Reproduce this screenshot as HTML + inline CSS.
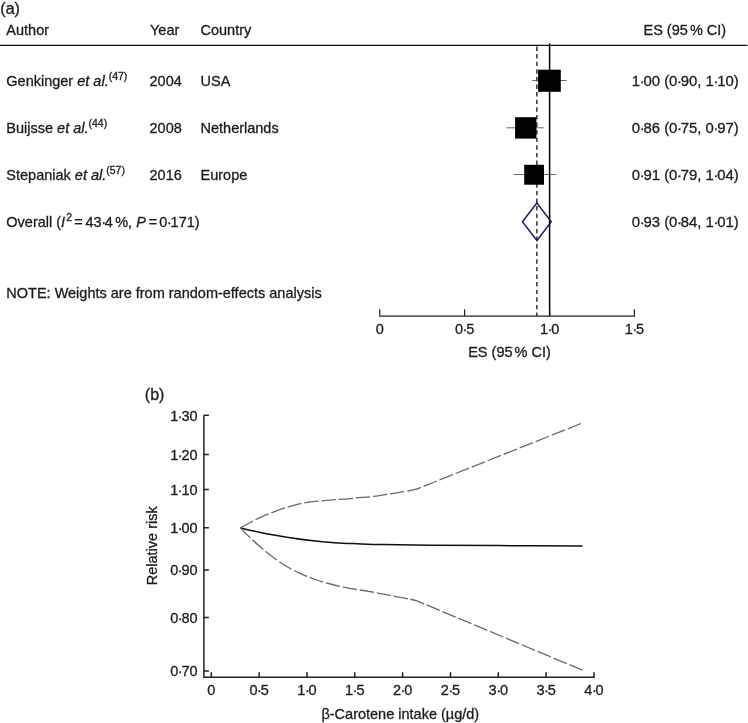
<!DOCTYPE html>
<html><head><meta charset="utf-8"><title>Figure</title>
<style>
html,body{margin:0;padding:0;background:#fff;}
svg{display:block}
text{font-family:"Liberation Sans",sans-serif;fill:#1c1c1c;font-size:14.5px;stroke:#1c1c1c;stroke-width:0.3px}
.i{font-style:italic}
.s{font-size:10.5px}
.d{letter-spacing:-1.2px}
.p{font-size:16px}
.v{font-size:14.9px}
</style></head><body>
<svg width="748" height="723" viewBox="0 0 748 723">
<rect width="748" height="723" fill="#fff"/>

<text class="p" x="0.3" y="14.4">(a)</text>
<text x="6.3" y="35.4">Author</text>
<text x="150" y="35.4">Year</text>
<text x="200.5" y="35.4">Country</text>
<text x="643.5" y="35.4">ES (95<tspan dx="-2"> </tspan>% CI)</text>
<line x1="0" y1="45.4" x2="747.5" y2="45.4" stroke="#111" stroke-width="1.3"/>
<text x="6.3" y="86">Genkinger <tspan class="i">et al.</tspan><tspan class="s" dy="-6">(47)</tspan></text>
<text x="149.5" y="86">2004</text>
<text x="200.5" y="86">USA</text>
<text class="v" x="631.8" y="85.8">1<tspan class="d" dx="-0.4">·</tspan>00 (0<tspan class="d" dx="-0.4">·</tspan>90, 1<tspan class="d" dx="-0.4">·</tspan>10)</text>
<text x="6.3" y="133">Buijsse <tspan class="i">et al.</tspan><tspan class="s" dy="-6">(44)</tspan></text>
<text x="149.5" y="133">2008</text>
<text x="200.5" y="133">Netherlands</text>
<text class="v" x="631.8" y="132.8">0<tspan class="d" dx="-0.4">·</tspan>86 (0<tspan class="d" dx="-0.4">·</tspan>75, 0<tspan class="d" dx="-0.4">·</tspan>97)</text>
<text x="6.3" y="180">Stepaniak <tspan class="i">et al.</tspan><tspan class="s" dy="-6">(57)</tspan></text>
<text x="149.5" y="180">2016</text>
<text x="200.5" y="180">Europe</text>
<text class="v" x="631.8" y="179.8">0<tspan class="d" dx="-0.4">·</tspan>91 (0<tspan class="d" dx="-0.4">·</tspan>79, 1<tspan class="d" dx="-0.4">·</tspan>04)</text>
<text x="6.3" y="226.7">Overall (<tspan class="i">I</tspan><tspan class="s" dy="-6" dx="1.2">2</tspan><tspan dy="6" dx="2.2">=</tspan><tspan dx="2.6">43<tspan class="d" dx="-0.4">·</tspan>4</tspan><tspan dx="2.3">%, </tspan><tspan class="i" dx="0.2">P</tspan><tspan dx="2.6">=</tspan><tspan dx="2.2">0<tspan class="d" dx="-0.4">·</tspan>171)</tspan></text>
<text class="v" x="631.8" y="226.5">0<tspan class="d" dx="-0.4">·</tspan>93 (0<tspan class="d" dx="-0.4">·</tspan>84, 1<tspan class="d" dx="-0.4">·</tspan>01)</text>
<text x="6.3" y="297.5">NOTE: Weights are from random-effects analysis</text>
<line x1="549.6" y1="43.5" x2="549.6" y2="316" stroke="#000" stroke-width="1.5"/>
<line x1="536.9" y1="46.5" x2="536.9" y2="316" stroke="#000" stroke-width="1.2" stroke-dasharray="4.4 3.2"/>
<g stroke="#444" stroke-width="0.8">
<line x1="532.3" y1="80.5" x2="566.6" y2="80.5"/>
<line x1="506.4" y1="127.8" x2="543.8" y2="127.8"/>
<line x1="513.6" y1="174.5" x2="556.3" y2="174.5"/>
</g>
<rect x="538.1" y="69.7" width="22.7" height="22.1" fill="#000"/>
<rect x="515.1" y="117.2" width="21.3" height="21.4" fill="#000"/>
<rect x="524.2" y="164.8" width="19.8" height="19.9" fill="#000"/>
<polygon points="522.4,221.7 536.9,203 551.3,221.7 536.9,240.5" fill="none" stroke="#1a1a66" stroke-width="1.4"/>
<g stroke="#222" stroke-width="1.2" fill="none">
<path d="M379.2 316.1H635"/>
<path d="M379.8 309.2V316.1M464.6 309.2V316.1M549.7 309.2V316.1M634.4 309.2V316.1"/>
</g>
<g text-anchor="middle">
<text x="379.9" y="333.6">0</text>
<text x="464.6" y="333.6">0<tspan class="d" dx="-0.4">·</tspan>5</text>
<text x="549.7" y="333.6">1<tspan class="d" dx="-0.4">·</tspan>0</text>
<text x="634.4" y="333.6">1<tspan class="d" dx="-0.4">·</tspan>5</text>
<text x="509.5" y="357">ES (95<tspan dx="-2"> </tspan>% CI)</text>
</g>
<text class="p" x="144.8" y="399.8">(b)</text>
<g stroke="#222" stroke-width="1.5" fill="none">
<path d="M203.9 415.2V677.2H594.6"/>
<path d="M203.9 415.2h5M203.9 454.4h5M203.9 489.4h5M203.9 527.7h5M203.9 570.0h5M203.9 617.4h5M203.9 671.0h5"/>
<path d="M211.3 677.2v-5M259.1 677.2v-5M307.0 677.2v-5M354.8 677.2v-5M402.6 677.2v-5M450.5 677.2v-5M498.3 677.2v-5M546.1 677.2v-5M594.0 677.2v-5"/>
</g>
<g text-anchor="end">
<text x="197.6" y="420.5">1<tspan class="d" dx="-0.4">·</tspan>30</text>
<text x="197.6" y="459.7">1<tspan class="d" dx="-0.4">·</tspan>20</text>
<text x="197.6" y="494.7">1<tspan class="d" dx="-0.4">·</tspan>10</text>
<text x="197.6" y="533.0">1<tspan class="d" dx="-0.4">·</tspan>00</text>
<text x="197.6" y="575.3">0<tspan class="d" dx="-0.4">·</tspan>90</text>
<text x="197.6" y="622.7">0<tspan class="d" dx="-0.4">·</tspan>80</text>
<text x="197.6" y="676.3">0<tspan class="d" dx="-0.4">·</tspan>70</text>
</g>
<g text-anchor="middle">
<text x="211.3" y="695">0</text>
<text x="259.1" y="695">0<tspan class="d" dx="-0.4">·</tspan>5</text>
<text x="307.0" y="695">1<tspan class="d" dx="-0.4">·</tspan>0</text>
<text x="354.8" y="695">1<tspan class="d" dx="-0.4">·</tspan>5</text>
<text x="402.6" y="695">2<tspan class="d" dx="-0.4">·</tspan>0</text>
<text x="450.5" y="695">2<tspan class="d" dx="-0.4">·</tspan>5</text>
<text x="498.3" y="695">3<tspan class="d" dx="-0.4">·</tspan>0</text>
<text x="546.1" y="695">3<tspan class="d" dx="-0.4">·</tspan>5</text>
<text x="594.0" y="695">4<tspan class="d" dx="-0.4">·</tspan>0</text>
<text x="400.3" y="718.5">β-Carotene intake (µg/d)</text>
</g>
<text transform="translate(157.2,545.8) rotate(-90)" text-anchor="middle">Relative risk</text>
<path d="M240.3 527.9C243.9 528.7 253.7 531.1 261.7 532.7C269.7 534.3 279.6 536.0 288.5 537.4C297.4 538.8 307.4 540.1 315.2 541.0C322.9 541.9 328.1 542.2 335.0 542.7C341.9 543.2 348.6 543.4 356.7 543.7C364.8 544.0 371.3 544.3 383.5 544.6C395.7 544.9 410.6 545.1 430.0 545.3C449.4 545.5 474.6 545.5 500.0 545.6C525.4 545.7 568.8 545.9 582.5 545.9" fill="none" stroke="#111" stroke-width="1.5"/>
<path d="M240.3 527.9C241.7 527.2 244.8 525.4 248.4 523.5C252.0 521.6 257.2 518.8 261.7 516.8C266.1 514.8 270.6 513.1 275.1 511.4C279.6 509.7 284.1 508.1 288.5 506.8C292.9 505.5 297.4 504.3 301.8 503.4C306.2 502.5 309.7 502.0 315.2 501.4C320.7 500.8 330.3 500.1 335.0 499.7C339.7 499.3 339.8 499.5 343.4 499.2C347.0 498.9 352.2 498.3 356.7 497.9C361.1 497.5 365.6 497.3 370.1 496.8C374.6 496.3 379.1 495.5 383.5 494.8C387.9 494.1 392.4 493.5 396.8 492.8C401.2 492.1 406.9 491.1 410.2 490.5C413.5 489.9 415.7 489.2 416.8 489.0L581 423.5" fill="none" stroke="#6a6a6a" stroke-width="1.3" stroke-dasharray="14.35 2.9"/>
<path d="M240.3 527.9C241.7 529.2 244.8 532.6 248.4 536.0C252.0 539.4 257.2 544.3 261.7 548.1C266.1 551.9 270.6 555.6 275.1 558.8C279.6 562.0 284.1 565.0 288.5 567.5C292.9 570.0 297.4 572.1 301.8 574.1C306.2 576.1 310.7 577.9 315.2 579.5C319.7 581.1 323.9 582.2 328.6 583.5C333.3 584.8 338.7 586.1 343.4 587.1C348.1 588.1 352.2 588.8 356.7 589.5C361.1 590.2 365.6 590.8 370.1 591.6C374.6 592.4 379.1 593.2 383.5 594.1C387.9 595.0 392.4 595.9 396.8 596.8C401.2 597.6 406.9 598.5 410.2 599.2C413.5 599.9 415.7 600.5 416.8 600.8L582.6 670.2" fill="none" stroke="#6a6a6a" stroke-width="1.3" stroke-dasharray="14.3 2.9"/>
</svg>
</body></html>
